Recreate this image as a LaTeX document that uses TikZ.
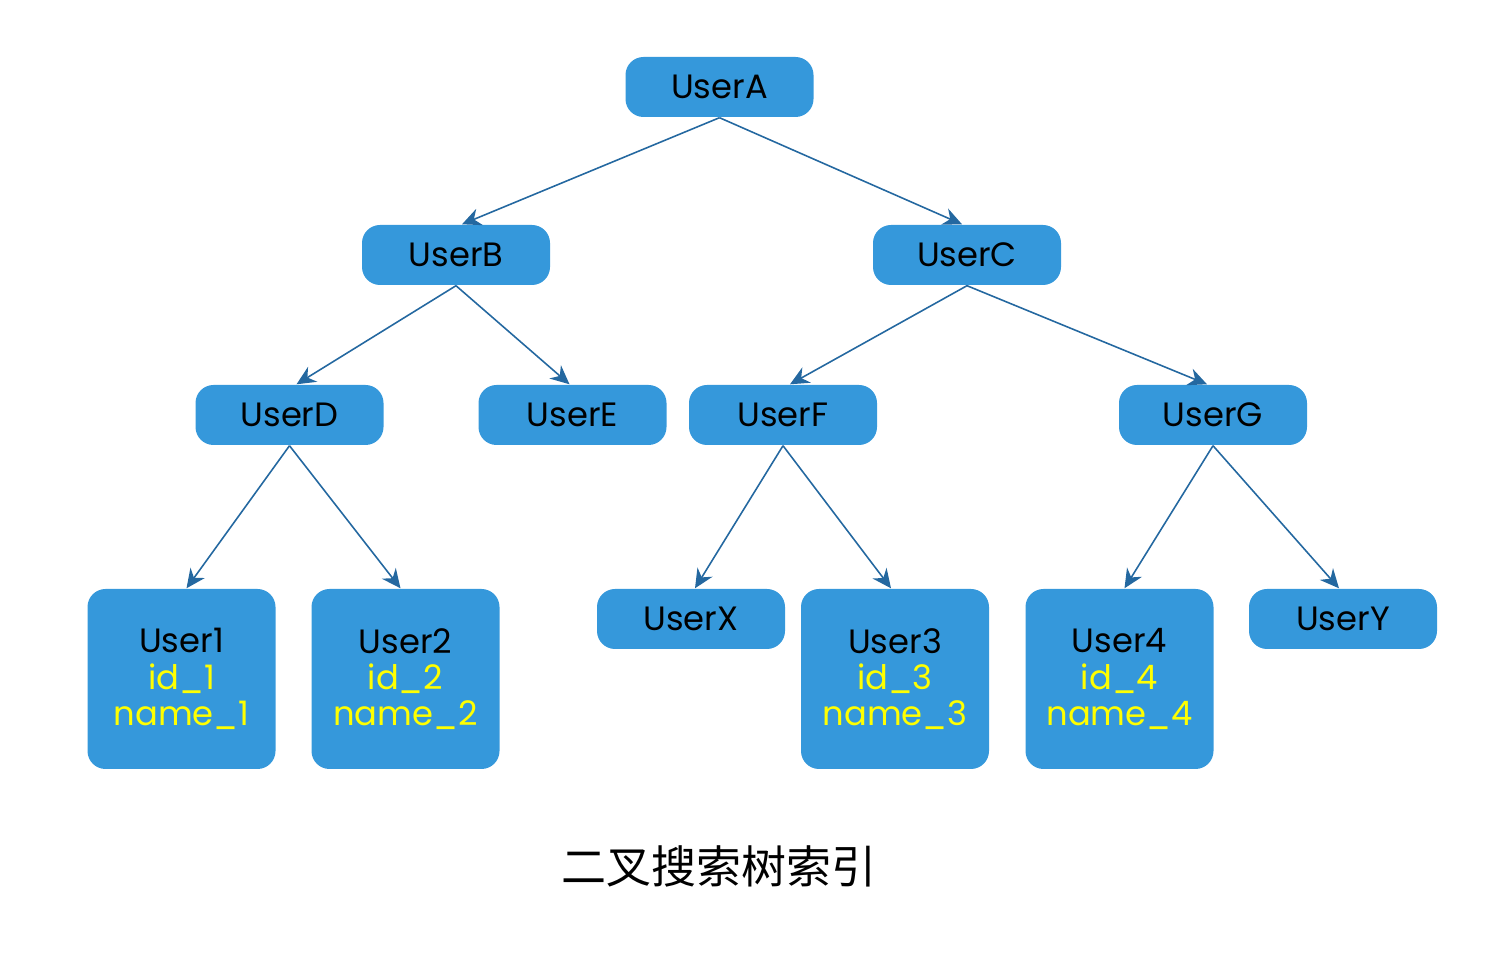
\documentclass[tikz,border=0pt]{standalone}
\usepackage{fontspec}
\setmainfont{Poppins}
\newfontfamily\cjk{Noto Sans CJK SC}
\usetikzlibrary{arrows.meta}
\definecolor{boxblue}{RGB}{53,152,219}
\definecolor{edgeblue}{RGB}{36,104,160}
\definecolor{fieldyellow}{RGB}{255,255,0}
\tikzset{
	user/.style={fill=boxblue, rounded corners=0.18cm, minimum width=1.88cm, minimum height=0.6cm, inner sep=0pt, align=center, font=\fontsize{9.6}{10.3}\selectfont},
	record/.style={user, minimum height=1.8cm},
	link/.style={-{Stealth[length=5.4pt, width=5pt]}, edgeblue, line width=0.45pt}
}
\newcommand{\field}[1]{\textcolor{fieldyellow}{#1}}
\begin{document}
\begin{tikzpicture}
	\useasboundingbox (0, 0) rectangle (14.98, -9.68);
	% top levels
	\node[user] (ua) at (7.195, -0.87) {UserA};
	\node[user] (ub) at (4.56, -2.55) {UserB};
	\node[user] (uc) at (9.67, -2.55) {UserC};
	\node[user] (ud) at (2.895, -4.15) {UserD};
	\node[user] (ue) at (5.725, -4.15) {UserE};
	\node[user] (uf) at (7.83, -4.15) {UserF};
	\node[user] (ug) at (12.13, -4.15) {UserG};
	
	% leaves
	\node[record] (u1) at (1.815, -6.79) {User1\\\field{id\_1}\\\field{name\_1}};
	\node[record] (u2) at (4.055, -6.79) {User2\\\field{id\_2}\\\field{name\_2}};
	\node[user] (ux) at (6.91, -6.19) {UserX};
	\node[record] (u3) at (8.95, -6.79) {User3\\\field{id\_3}\\\field{name\_3}};
	\node[record] (u4) at (11.195, -6.79) {User4\\\field{id\_4}\\\field{name\_4}};
	\node[user] (uy) at (13.43, -6.19) {UserY};
	
	\draw[link] (ua.south) -- ([xshift=0.06cm]ub.north);
	\draw[link] (ua.south) -- ([xshift=-0.05cm]uc.north);
	\draw[link] (ub.south) -- ([xshift=0.07cm]ud.north);
	\draw[link] (ub.south) -- ([xshift=-0.03cm]ue.north);
	\draw[link] (uc.south) -- ([xshift=0.07cm]uf.north);
	\draw[link] (uc.south) -- ([xshift=-0.06cm]ug.north);
	\draw[link] (ud.south) -- ([xshift=0.05cm]u1.north);
	\draw[link] (ud.south) -- ([xshift=-0.05cm]u2.north);
	\draw[link] (uf.south) -- ([xshift=0.04cm]ux.north);
	\draw[link] (uf.south) -- ([xshift=-0.04cm]u3.north);
	\draw[link] (ug.south) -- ([xshift=0.05cm]u4.north);
	\draw[link] (ug.south) -- ([xshift=-0.04cm]uy.north);
	
	\node[font=\cjk\fontsize{12.8}{14}\selectfont] (title) at (7.19, -8.66) {二叉搜索树索引};
\end{tikzpicture}
\end{document}
